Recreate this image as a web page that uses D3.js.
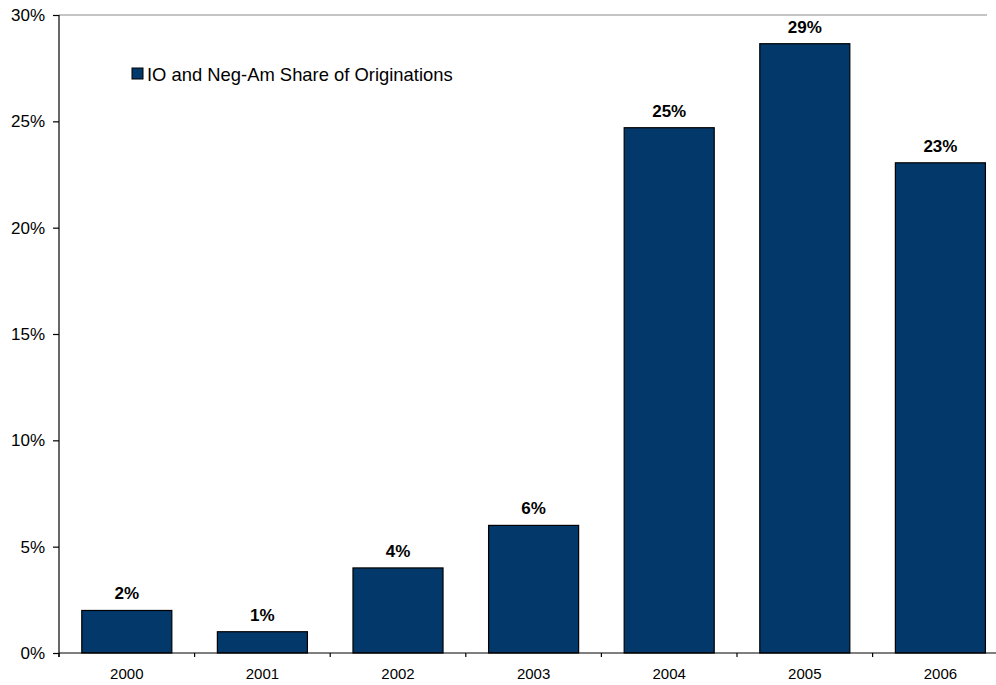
<!DOCTYPE html>
<html>
<head>
<meta charset="utf-8">
<script src="https://cdn.jsdelivr.net/npm/d3@7"></script>
<style>
  html, body { margin: 0; padding: 0; background: #fff; }
  svg { display: block; font-family: "Liberation Sans", Arial, Helvetica, sans-serif; }
</style>
</head>
<body>
<svg id="chart" width="996" height="685"></svg>
<script>
// Interest-only and negative-amortization loans as a share of originations
const years = ["2000", "2001", "2002", "2003", "2004", "2005", "2006"];
const shares = [2.0, 1.0, 4.0, 6.0, 24.7, 28.65, 23.05];
const yTicks = [0, 5, 10, 15, 20, 25, 30];
const seriesName = "IO and Neg-Am Share of Originations";

const plotLeft = 59, plotTop = 15, plotBottom = 653;
const bandW = 135.6;
const barColor = "#02386A";

const svg = d3.select("#chart");

const x = d3.scaleBand()
  .domain(years)
  .range([plotLeft, plotLeft + bandW * years.length])
  .paddingInner(0.336)
  .paddingOuter(0.168);

const y = d3.scaleLinear().domain([0, 30]).range([plotBottom, plotTop]);

// top frame line
svg.append("line")
  .attr("x1", plotLeft).attr("x2", 987)
  .attr("y1", y(30)).attr("y2", y(30))
  .attr("stroke", "#8a8a8a").attr("stroke-width", 1.2);

// bars
svg.append("g").selectAll("rect")
  .data(years)
  .join("rect")
  .attr("x", d => x(d))
  .attr("width", x.bandwidth())
  .attr("y", (d, i) => y(shares[i]))
  .attr("height", (d, i) => y(0) - y(shares[i]))
  .attr("fill", barColor)
  .attr("stroke", "#000")
  .attr("stroke-width", 1.2);

// value labels
svg.append("g").selectAll("text")
  .data(years)
  .join("text")
  .attr("x", d => x(d) + x.bandwidth() / 2)
  .attr("y", (d, i) => y(shares[i]) - 11)
  .attr("text-anchor", "middle")
  .attr("font-size", 17)
  .attr("font-weight", "bold")
  .attr("fill", "#000")
  .text((d, i) => Math.round(shares[i]) + "%");

// y axis
const yAxis = d3.axisLeft(y)
  .tickValues(yTicks)
  .tickSize(6)
  .tickPadding(8)
  .tickFormat(d => d + "%");
const gy = svg.append("g")
  .attr("transform", `translate(${plotLeft},0)`)
  .call(yAxis);
gy.select(".domain").attr("d", `M0,${y(30)}V${y(0) + 4}`).attr("stroke", "#000").attr("stroke-width", 1.2);
gy.selectAll(".tick line").attr("stroke", "#000").attr("stroke-width", 1.2);
gy.selectAll(".tick text")
  .attr("font-size", 17)
  .attr("font-family", "'Liberation Sans', Arial, Helvetica, sans-serif")
  .attr("fill", "#000");

// x axis: ticks at category boundaries
const boundaries = years.map(d => x(d) - x.step() * x.paddingInner() / 2);
const gx = svg.append("g");
gx.append("line")
  .attr("x1", plotLeft).attr("x2", plotLeft + bandW * years.length)
  .attr("y1", y(0)).attr("y2", y(0))
  .attr("stroke", "#000").attr("stroke-width", 1.2);
gx.selectAll("line.tk")
  .data(boundaries)
  .join("line")
  .attr("class", "tk")
  .attr("x1", d => d).attr("x2", d => d)
  .attr("y1", y(0)).attr("y2", y(0) + 4)
  .attr("stroke", "#000").attr("stroke-width", 1.2);
gx.selectAll("text")
  .data(years)
  .join("text")
  .attr("x", d => x(d) + x.bandwidth() / 2)
  .attr("y", y(0) + 26)
  .attr("text-anchor", "middle")
  .attr("font-size", 15)
  .attr("fill", "#000")
  .text(d => d);

// legend
const lg = svg.append("g").attr("transform", "translate(132,68)");
lg.append("rect")
  .attr("width", 11).attr("height", 11)
  .attr("fill", barColor).attr("stroke", "#000").attr("stroke-width", 1);
lg.append("text")
  .attr("x", 15).attr("y", 13)
  .attr("font-size", 18.4)
  .attr("fill", "#000")
  .text(seriesName);
</script>
</body>
</html>
